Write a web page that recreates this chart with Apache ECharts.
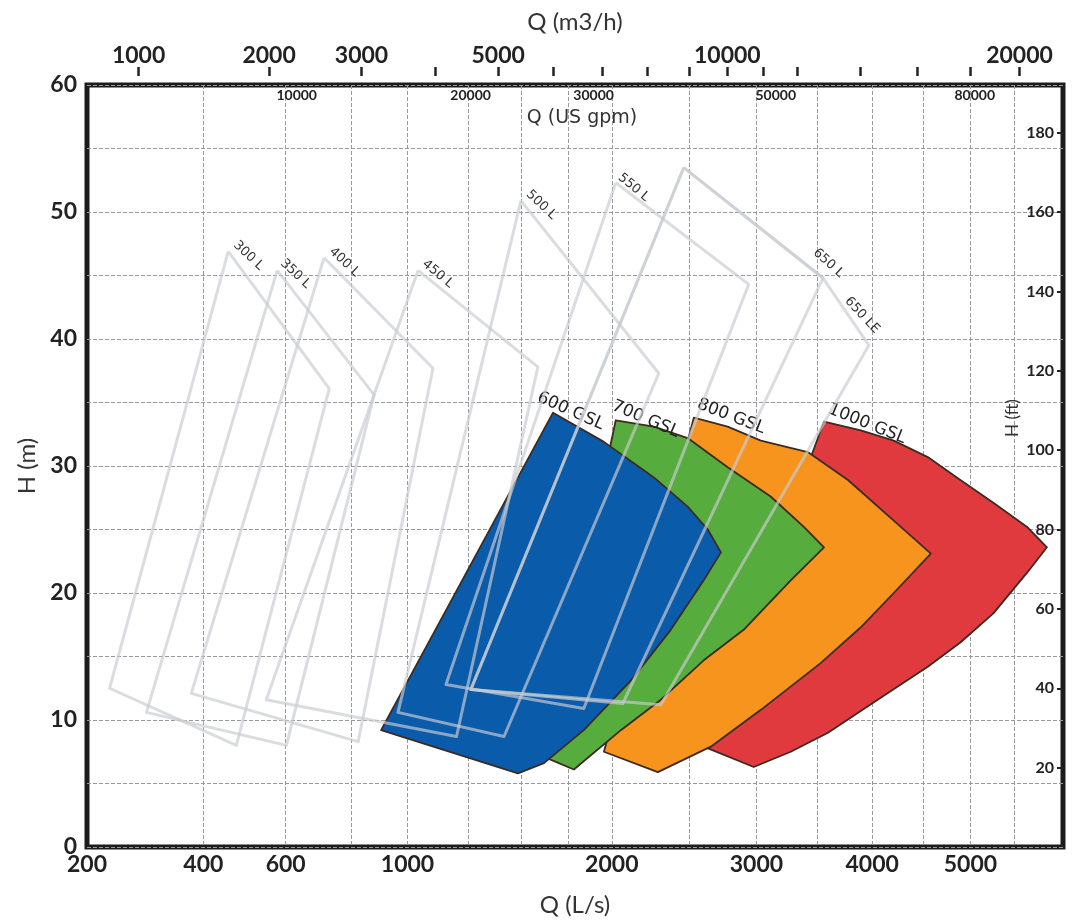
<!DOCTYPE html>
<html><head><meta charset="utf-8">
<script src="https://cdn.jsdelivr.net/npm/echarts@6.0.0/dist/echarts.min.js"></script>
<style>html,body{margin:0;padding:0;background:#fff}#c{width:1072px;height:924px}</style>
</head><body><div id="c"></div>
<script>
// ---- scale: power scale on flow (exponent)
const P = 0.35;
const T = q => Math.pow(q, P);

// ---- axis ranges / ticks
const qMin = 200, qMax = 6080;          // L/s
const hMin = 0, hMax = 60;              // m
const ftMax = 192;                      // ft
const lsLabels = [200, 400, 600, 1000, 2000, 3000, 4000, 5000];
const lsGrid = [400, 600, 800, 1000, 1250, 1500, 1750, 2000, 2500, 3000, 3500, 4000, 4500, 5000, 5500];
const m3hLabels = [1000, 2000, 3000, 5000, 10000, 20000];
const m3hTicks = [1000, 2000, 3000, 4000, 5000, 6000, 7000, 8000, 9000, 10000, 11000, 12000, 14000, 16000, 18000, 20000];
const gpmLabels = [10000, 20000, 30000, 50000, 80000];
const hLabels = [0, 10, 20, 30, 40, 50, 60];
const ftLabels = [20, 40, 60, 80, 100, 120, 140, 160, 180];

// ---- GSL ranges: [Q (L/s), H (m)]
const gsl600 = [[1666,34.2],[1953,31.9],[2264,29.1],[2492,26.8],[2634,25.0],[2730,23.2],[2605,21.0],[2376,17.1],[2117,13.1],[1836,9.2],[1618,6.6],[1485,5.8],[902,9.2]];
const gsl700 = [[2024,33.6],[2264,33.1],[2492,32.2],[2780,29.9],[3113,27.6],[3387,25.2],[3561,23.6],[3277,21.0],[2901,17.1],[2605,14.7],[2310,11.6],[2055,9.2],[1780,6.1],[1618,7.1]];
const gsl800 = [[2535,33.8],[2780,33.1],[3035,32.0],[3421,31.1],[3775,28.9],[4207,25.7],[4580,23.1],[4207,20.0],[3893,17.3],[3534,14.5],[3035,10.8],[2656,7.9],[2290,5.9],[1953,7.5]];
const gsl1000 = [[3561,33.5],[3893,32.8],[4207,32.0],[4548,30.7],[4891,28.9],[5255,27.1],[5645,25.2],[5883,23.6],[5645,21.6],[5255,18.4],[4891,16.1],[4548,14.2],[4052,11.6],[3596,9.0],[3277,7.5],[2979,6.3],[2605,7.9]];

// ---- L ranges (outlines): [Q (L/s), H (m)]
const l300 = [[455,46.9],[728,36.1],[474,8.0],[232,12.5]];
const l350 = [[577,45.4],[877,35.6],[602,8.0],[291,10.6]];
const l400 = [[712,46.4],[1101,37.7],[822,8.3],[375,12.1]];
const l450 = [[1041,45.4],[1586,37.8],[1200,8.7],[548,11.6]];
const l500 = [[1500,50.9],[2296,37.3],[1417,8.7],[964,10.6]];
const l550 = [[2024,52.3],[2940,44.3],[1836,10.9],[1155,12.8]];
const l650 = [[2465,53.5],[3552,44.8],[2067,11.3],[1263,12.4]];
const l650le = [[2465,53.5],[3552,44.8],[3969,39.5],[2310,11.2],[1263,12.4]];

const gslNames = ['1000 GSL', '800 GSL', '700 GSL', '600 GSL'];
const lNames = ['300 L', '350 L', '400 L', '450 L', '500 L', '550 L', '650 L', '650 LE'];

// ---- styling (not data)
const FONT = 'Lato, "Open Sans", sans-serif';
const WIDE = '"DejaVu Sans", sans-serif';
const gslStyle = [
  {pts: gsl1000, color: '#e03a3e', off: [5, -13], rot: -22},
  {pts: gsl800,  color: '#f7941e', off: [4, -14], rot: -21},
  {pts: gsl700,  color: '#56ac3c', off: [-3, -15], rot: -23},
  {pts: gsl600,  color: '#0a5cab', off: [-15, -16], rot: -24}
];
const lStyle = [
  {pts: l300, at: 0, pos: [7, -8], rot: -43},
  {pts: l350, at: 0, pos: [5, -9], rot: -43},
  {pts: l400, at: 0, pos: [7, -8], rot: -43},
  {pts: l450, at: 0, pos: [6, -8], rot: -40},
  {pts: l500, at: 0, pos: [7, -8], rot: -43},
  {pts: l550, at: 0, pos: [4, -7], rot: -40},
  {pts: l650, at: 1, pos: [-8, -27], rot: -42},
  {pts: l650le, at: 1, pos: [24, 21], rot: -47}
];

const labelFmt = (list, conv) => v => {
  let best = list[0], d = Infinity;
  list.forEach(x => { const dd = Math.abs(T(conv(x)) - v); if (dd < d) { d = dd; best = x; } });
  return String(best);
};
const id = x => x;
const m3h2ls = x => x / 3.6;
const gpm2ls = x => x * 0.0630902;

const dash = {type: [4, 2], color: '#9a9a9a', width: 1};

const gslSeries = gslStyle.map((g, k) => ({
  type: 'custom', name: gslNames[k], xAxisIndex: 0, yAxisIndex: 0, z: 2 + k * 0.1, silent: true,
  data: g.pts.map(p => [T(p[0]), p[1]]),
  renderItem: (params, api) => {
    if (params.dataIndex !== 0) return null;
    const c = g.pts.map(p => api.coord([T(p[0]), p[1]]));
    return {type: 'group', children: [
      {type: 'polygon', shape: {points: c}, style: {fill: g.color, stroke: '#3b2b22', lineWidth: 1.8, lineJoin: 'round'}},
      {type: 'text', x: c[0][0] + g.off[0], y: c[0][1] + g.off[1], rotation: g.rot * Math.PI / 180,
       style: {text: gslNames[k], font: '17px ' + WIDE, fill: '#222', align: 'left', verticalAlign: 'middle'}}
    ]};
  }
}));

const lSeries = lStyle.map((o, k) => ({
  type: 'line', name: lNames[k], xAxisIndex: 0, yAxisIndex: 0, z: 5, silent: true, animation: false,
  symbol: 'circle', symbolSize: 0, showSymbol: true,
  lineStyle: {color: 'rgba(200,204,210,0.68)', width: 3, join: 'round'},
  itemStyle: {color: 'transparent'},
  data: o.pts.concat([o.pts[0]]).map((p, i) => ({
    value: [T(p[0]), p[1]],
    label: i === o.at ? {show: true, formatter: lNames[k], position: o.pos, rotate: o.rot,
      align: 'left', verticalAlign: 'middle', fontSize: 13, color: '#333', fontFamily: WIDE} : {show: false}
  }))
}));

const chart = echarts.init(document.getElementById('c'), null, {renderer: 'canvas'});
chart.setOption({
  animation: false,
  backgroundColor: '#fff',
  grid: {left: 87, right: 9, top: 85, bottom: 77, show: true, borderColor: '#1c1c1c', borderWidth: 5, outerBoundsMode: 'none', containLabel: false},
  xAxis: [
    { // Q (L/s)
      type: 'value', position: 'bottom', min: T(qMin), max: T(qMax),
      name: 'Q (L/s)', nameLocation: 'middle', nameGap: 58,
      nameTextStyle: {fontSize: 24, color: '#333', fontFamily: FONT, verticalAlign: 'middle'},
      axisLine: {show: false, onZero: false},
      axisTick: {show: false, customValues: lsGrid.map(T)},
      axisLabel: {customValues: lsLabels.map(T), formatter: labelFmt(lsLabels, id), fontSize: 23, fontWeight: 'bold', color: '#222', fontFamily: FONT, margin: 6},
      splitLine: {show: true, lineStyle: dash}
    },
    { // Q (m3/h)
      type: 'value', position: 'top', offset: 9, min: T(qMin), max: T(qMax),
      name: 'Q (m3/h)', nameLocation: 'middle', nameGap: 54,
      nameTextStyle: {fontSize: 24, color: '#333', fontFamily: FONT, verticalAlign: 'middle'},
      axisLine: {show: false, onZero: false},
      axisTick: {show: true, length: 9, lineStyle: {color: '#222', width: 2.5}, customValues: m3hTicks.map(x => T(m3h2ls(x)))},
      axisLabel: {customValues: m3hLabels.map(x => T(m3h2ls(x))), formatter: labelFmt(m3hLabels, m3h2ls), fontSize: 23, fontWeight: 'bold', color: '#222', fontFamily: FONT, margin: 9},
      splitLine: {show: false}
    },
    { // Q (US gpm)
      type: 'value', position: 'top', min: T(qMin), max: T(qMax),
      name: 'Q (US gpm)', nameLocation: 'middle', nameGap: -33,
      nameTextStyle: {fontSize: 19, color: '#333', fontFamily: WIDE, verticalAlign: 'middle', padding: [0, 0, 0, 14]},
      axisLine: {show: false, onZero: false}, axisTick: {show: false},
      axisLabel: {inside: true, customValues: gpmLabels.map(x => T(gpm2ls(x))), formatter: labelFmt(gpmLabels, gpm2ls), fontSize: 14, fontWeight: 'bold', color: '#222', fontFamily: FONT, margin: 3},
      splitLine: {show: false}
    }
  ],
  yAxis: [
    { // H (m)
      type: 'value', position: 'left', min: hMin, max: hMax, interval: 5,
      name: 'H (m)', nameLocation: 'middle', nameGap: 54,
      nameTextStyle: {fontSize: 24, color: '#333', fontFamily: FONT, verticalAlign: 'middle'},
      axisLine: {show: false, onZero: false}, axisTick: {show: false},
      axisLabel: {customValues: hLabels, fontSize: 23, fontWeight: 'bold', color: '#222', fontFamily: FONT, margin: 10},
      splitLine: {show: true, lineStyle: dash}
    },
    { // H (ft)
      type: 'value', position: 'right', min: 0, max: ftMax,
      axisLine: {show: false, onZero: false},
      axisTick: {show: true, inside: true, length: 6, lineStyle: {color: '#222', width: 2}, customValues: ftLabels},
      axisLabel: {inside: true, customValues: ftLabels, fontSize: 16, fontWeight: 'bold', color: '#222', fontFamily: FONT, margin: 9},
      splitLine: {show: false}
    }
  ],
  graphic: [
    {type: 'text', x: 1013, y: 418, rotation: Math.PI / 2, z: 10,
     style: {text: 'H (ft)', font: '17px ' + FONT, fill: '#333', align: 'center', verticalAlign: 'middle'}}
  ],
  series: gslSeries.concat(lSeries)
});
</script>
</body></html>
